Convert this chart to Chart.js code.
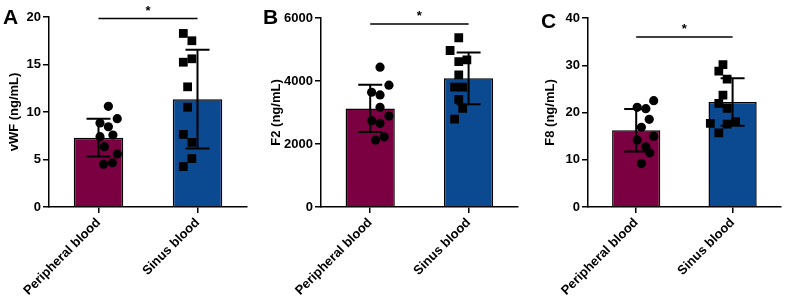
<!DOCTYPE html>
<html>
<head>
<meta charset="utf-8">
<script src="https://cdn.jsdelivr.net/npm/chart.js@4.4.1/dist/chart.umd.min.js"></script>
<style>
  html, body { margin: 0; padding: 0; background: #fff; }
  #wrap { position: relative; width: 787px; height: 304px; background: #fff; overflow: hidden; }
  canvas { position: absolute; top: 0; }
  .letter { position: absolute; font-family: "Liberation Sans", Arial, sans-serif; font-weight: bold; font-size: 21px; color: #000; line-height: 1; }
</style>
</head>
<body>
<div id="wrap">
  <canvas id="cA" width="262" height="304" style="left:0px"></canvas>
  <canvas id="cB" width="262" height="304" style="left:262px"></canvas>
  <canvas id="cC" width="263" height="304" style="left:524px"></canvas>
  <div class="letter" style="left:3px;top:6px">A</div>
  <div class="letter" style="left:263px;top:6px">B</div>
  <div class="letter" style="left:541px;top:10px">C</div>
</div>
<script>
// ---------- data ----------
const categories = ['Peripheral blood', 'Sinus blood'];

// Panel A: vWF (ng/mL)
const vwfMeans = [7.3, 11.35];
const vwfSD = [1.98, 5.2];
const vwfPeripheral = [10.6, 8.84, 9.3, 8.45, 7.4, 7.58, 6.35, 5.58, 4.5, 4.66];
const vwfPeripheralJitter = [0, -0.106, 0.112, 0, -0.106, 0.057, -0.051, 0.112, -0.061, 0.051];
const vwfSinus = [18.27, 17.5, 15.24, 15.6, 12.65, 10.5, 7.64, 6.8, 5.1, 4.26];
const vwfSinusJitter = [-0.054, 0.054, -0.054, 0.054, 0, 0, -0.054, 0.054, 0.054, -0.054];
const vwfTicks = [0, 5, 10, 15, 20];

// Panel B: F2 (ng/mL)
const f2Means = [3130, 4085];
const f2SD = [748, 821];
const f2Peripheral = [4439, 3643, 3866, 3557, 3166, 2739, 2888, 2656, 2124, 2229];
const f2PeripheralJitter = [0, -0.107, 0.113, 0, 0, -0.107, 0.113, 0, -0.057, 0.053];
const f2Sinus = [5373, 4968, 4672, 4618, 4194, 3803, 3803, 3420, 3134, 2793];
const f2SinusJitter = [0, -0.11, 0.103, 0, 0, -0.053, 0.05, 0, 0.05, -0.053];
const f2Ticks = [0, 2000, 4000, 6000];

// Panel C: F8 (ng/mL)
const f8Means = [16.22, 22.2];
const f8SD = [4.5, 5.03];
const f8Peripheral = [22.5, 21.1, 20.8, 18.55, 16.86, 15.0, 14.16, 12.74, 11.47, 9.2];
const f8PeripheralJitter = [0.102, -0.112, 0, 0.044, -0.058, 0.102, -0.112, 0, 0.051, -0.058];
const f8Sinus = [30.15, 28.74, 27.05, 23.7, 21.95, 20.9, 17.7, 18.05, 17.56, 15.7];
const f8SinusJitter = [0, -0.054, 0.054, 0, -0.054, 0.054, -0.164, 0.164, 0.054, -0.054];
const f8Ticks = [0, 10, 20, 30, 40];

// significance bracket heights (data units)
const bracketLevels = [19.85, 5810, 36];
const yTitles = ['vWF (ng/mL)', 'F2 (ng/mL)', 'F8 (ng/mL)'];

// ---------- styling ----------
const FONT = '"Liberation Sans", Arial, sans-serif';
const MAROON = '#7A0042';
const BLUE = '#0B4990';

const overlayPlugin = {
  id: 'overlay',
  afterDatasetDraw(chart, args) {
    if (args.meta.type !== 'bar') return;
    const o = chart.options.plugins.overlay;
    const ctx = chart.ctx;
    const xs = chart.scales.x, ys = chart.scales.y;
    ctx.save();
    ctx.strokeStyle = '#000';
    ctx.lineWidth = 2;
    o.means.forEach((m, i) => {
      const x = xs.getPixelForValue(i);
      const yTop = ys.getPixelForValue(m + o.sd[i]);
      const yBot = ys.getPixelForValue(m - o.sd[i]);
      ctx.beginPath();
      ctx.moveTo(x, yTop); ctx.lineTo(x, yBot);
      ctx.moveTo(x - 12, yTop); ctx.lineTo(x + 12, yTop);
      ctx.moveTo(x - 12, yBot); ctx.lineTo(x + 12, yBot);
      ctx.stroke();
    });
    ctx.restore();
  },
  afterDraw(chart) {
    const o = chart.options.plugins.overlay;
    const ctx = chart.ctx;
    const xs = chart.scales.x, ys = chart.scales.y;
    const x0 = xs.getPixelForValue(0), x1 = xs.getPixelForValue(1);
    const y = ys.getPixelForValue(o.bracket);
    ctx.save();
    ctx.strokeStyle = '#000';
    ctx.lineWidth = 1.5;
    ctx.beginPath();
    ctx.moveTo(x0, y); ctx.lineTo(x1, y);
    ctx.stroke();
    ctx.fillStyle = '#000';
    ctx.font = 'bold 13px ' + FONT;
    ctx.textAlign = 'center';
    ctx.textBaseline = 'bottom';
    ctx.fillText('*', (x0 + x1) / 2, y - 1);
    ctx.restore();
  }
};

function pts(vals, jit, idx) {
  return vals.map((v, i) => ({ x: idx + jit[i], y: v }));
}

function makePanel(id, cfg) {
  const W = cfg.canvasWidth;
  new Chart(document.getElementById(id), {
    type: 'bar',
    data: {
      labels: categories,
      datasets: [
        {
          type: 'scatter', order: 1, xAxisID: 'x2',
          data: pts(cfg.p, cfg.pj, 0),
          pointStyle: 'circle', pointRadius: 4.6,
          backgroundColor: '#000', borderColor: '#000', borderWidth: 0
        },
        {
          type: 'scatter', order: 1, xAxisID: 'x2',
          data: pts(cfg.s, cfg.sj, 1),
          pointStyle: 'rect', pointRadius: 6.2,
          backgroundColor: '#000', borderColor: '#000', borderWidth: 0
        },
        {
          type: 'bar', order: 2, xAxisID: 'x', grouped: false,
          data: cfg.means,
          backgroundColor: [MAROON, BLUE],
          borderColor: '#000', borderWidth: 1.5,
          categoryPercentage: 1, barPercentage: 0.5
        }
      ]
    },
    options: {
      responsive: false,
      animation: false,
      events: [],
      layout: { padding: { left: 0, top: cfg.top, right: W - cfg.right, bottom: 0 } },
      plugins: {
        legend: { display: false },
        tooltip: { enabled: false },
        overlay: { means: cfg.means, sd: cfg.sd, bracket: cfg.bracket }
      },
      scales: {
        x: {
          type: 'category',
          offset: true,
          grid: { display: true, drawOnChartArea: false, offset: false, tickLength: 6, color: '#000', lineWidth: 1.5 },
          border: { display: true, color: '#000', width: 1.5 },
          ticks: {
            autoSkip: false, minRotation: 45, maxRotation: 90, padding: 2,
            color: '#000', font: { family: FONT, size: 13, weight: 'bold' }
          },
          afterFit(scale) {
            scale.height = 304 - cfg.bottom;
            scale.paddingLeft = 0; scale.paddingRight = 0;
          }
        },
        x2: { type: 'linear', display: false, min: -0.5, max: 1.5 },
        y: {
          min: 0, max: cfg.ticks[cfg.ticks.length - 1],
          afterBuildTicks(scale) { scale.ticks = cfg.ticks.map(v => ({ value: v })); },
          grid: { display: true, drawOnChartArea: false, tickLength: 6, color: '#000', lineWidth: 1.5 },
          border: { display: true, color: '#000', width: 1.5 },
          ticks: {
            padding: 2, color: '#000', font: { family: FONT, size: 13, weight: 'bold' },
            callback: (v) => String(v)
          },
          title: {
            display: true, text: cfg.title, color: '#000',
            font: { family: FONT, size: 13, weight: 'bold' },
            padding: { top: cfg.titlePad, bottom: 0 }
          },
          afterFit(scale) {
            scale.width = cfg.left;
            scale.paddingTop = 0; scale.paddingBottom = 0;
          }
        }
      }
    },
    plugins: [overlayPlugin]
  });
}

makePanel('cA', {
  canvasWidth: 262, left: 49, right: 247, top: 17, bottom: 207,
  means: vwfMeans, sd: vwfSD, p: vwfPeripheral, pj: vwfPeripheralJitter,
  s: vwfSinus, sj: vwfSinusJitter, ticks: vwfTicks, bracket: bracketLevels[0],
  title: yTitles[0], titlePad: 7
});
makePanel('cB', {
  canvasWidth: 262, left: 59, right: 260, top: 18, bottom: 207,
  means: f2Means, sd: f2SD, p: f2Peripheral, pj: f2PeripheralJitter,
  s: f2Sinus, sj: f2SinusJitter, ticks: f2Ticks, bracket: bracketLevels[1],
  title: yTitles[1], titlePad: 7
});
makePanel('cC', {
  canvasWidth: 263, left: 64, right: 260, top: 18, bottom: 207,
  means: f8Means, sd: f8SD, p: f8Peripheral, pj: f8PeripheralJitter,
  s: f8Sinus, sj: f8SinusJitter, ticks: f8Ticks, bracket: bracketLevels[2],
  title: yTitles[2], titlePad: 19
});
</script>
</body>
</html>
